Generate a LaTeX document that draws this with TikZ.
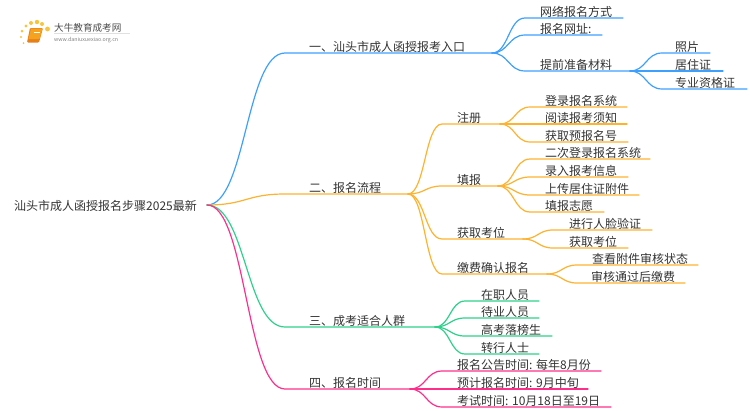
\documentclass[tikz,border=0pt]{standalone}
\usepackage{fontspec}
\setmainfont{Noto Sans CJK SC}
\usetikzlibrary{calc}
\definecolor{blueline}{HTML}{3DA0FF}
\definecolor{orangeline}{HTML}{FFB22E}
\definecolor{greenline}{HTML}{2ED18C}
\definecolor{pinkline}{HTML}{FF2E8B}
\definecolor{labeltext}{HTML}{333333}
\definecolor{bookfill}{HTML}{F5A21F}
\definecolor{bookedge}{HTML}{E8801A}
\definecolor{dotfill}{HTML}{F8C53A}
\begin{document}
\begin{tikzpicture}
[x=1pt,y=-1pt,item/.style = {anchor=base west, inner sep=0pt, yshift=-1pt, text=labeltext, font=\fontsize{12}{12}\selectfont},
link/.style = {to path={.. controls ($(\tikztostart)!0.5!(\tikztotarget|-\tikztostart)$) and ($(\tikztotarget)!0.5!(\tikztostart|-\tikztotarget)$) .. (\tikztotarget)}},
branch/.style = {line width=1.2pt, line cap=round},
bluebranch/.style = {branch, draw=blueline},
orangebranch/.style = {branch, draw=orangeline},
greenbranch/.style = {branch, draw=greenline},
pinkbranch/.style = {branch, draw=pinkline},
dot/.style = {fill=dotfill, draw=none},]
\useasboundingbox (0,0) rectangle (750,410);
% logo
\fill[dot] (37,22) circle (2.2);
\fill[dot] (31,23) circle (2);
\fill[dot] (42,24) circle (2);
\fill[dot] (47.5,29) circle (2.4);
\fill[dot] (26,26) circle (1.7);
\fill[dot] (22,31) circle (1.5);
\fill[dot] (21,37) circle (1.2);
\fill[dot] (23.5,43) circle (1);
\fill[bookedge,rounded corners=1pt] (30,28) -- (43,28) -- (39,42.5) -- (27,42.5) -- cycle;
\fill[bookfill,rounded corners=.5pt] (31,28.5) -- (42.5,28.5) -- (39.5,39) -- (28.5,39) -- cycle;
\draw[white,line width=.5pt] (33.5,32) -- (39.5,32);
\draw[black!12,line width=.5pt] (54,33.5) -- (130,33.5);
\node (logoname) at (54,30)[item,text=black!70,font=\fontsize{9.6}{10}\selectfont] {大牛教育成考网};
\node (logourl) at (54,40)[item,text=black!50,font=\fontsize{5.3}{6}\selectfont] {www.daniuxuexiao.org.cn};
% root
\node (R) at (14,209)[item] {汕头市成人函授报名步骤2025最新};
\coordinate (Rj) at (207,205);
% first level
\node (A) at (309,50)[item] {一、汕头市成人函授报考入口};
\coordinate (As) at (285,53); \coordinate (Aj) at (492,53);
\node (B) at (309,191)[item] {二、报名流程};
\coordinate (Bs) at (285,194); \coordinate (Bj) at (408,194);
\node (C) at (309,324)[item] {三、成考适合人群};
\coordinate (Cs) at (285,327); \coordinate (Cj) at (435,327);
\node (D) at (309,386)[item] {四、报名时间};
\coordinate (Ds) at (285,389); \coordinate (Dj) at (410,389);
% first branch
\node (A1) at (540,15)[item] {网络报名方式};
\coordinate (A1s) at (525,18); \coordinate (A1e) at (623,18);
\node (A2) at (540,32)[item] {报名网址:};
\coordinate (A2s) at (525,35); \coordinate (A2e) at (602,35);
\node (A3) at (540,68)[item] {提前准备材料};
\coordinate (A3s) at (525,71); \coordinate (A3j) at (630,71);
\node (A31) at (675,50)[item] {照片};
\coordinate (A31s) at (662,53); \coordinate (A31e) at (710,53);
\node (A32) at (675,68)[item] {居住证};
\coordinate (A32s) at (662,71); \coordinate (A32e) at (723,71);
\node (A33) at (675,86)[item] {专业资格证};
\coordinate (A33s) at (662,89); \coordinate (A33e) at (747,89);
% second branch
\node (B1) at (457,121)[item] {注册};
\coordinate (B1s) at (442,124); \coordinate (B1j) at (500,124);
\node (B2) at (457,183)[item] {填报};
\coordinate (B2s) at (442,186); \coordinate (B2j) at (498,186);
\node (B3) at (457,236)[item] {获取考位};
\coordinate (B3s) at (442,239); \coordinate (B3j) at (523,239);
\node (B4) at (457,271)[item] {缴费确认报名};
\coordinate (B4s) at (442,274); \coordinate (B4j) at (547,274);
\node (B11) at (545,104)[item] {登录报名系统};
\coordinate (B11s) at (530,107); \coordinate (B11e) at (627,107);
\node (B12) at (545,121)[item] {阅读报考须知};
\coordinate (B12s) at (530,124); \coordinate (B12e) at (627,124);
\node (B13) at (545,139)[item] {获取预报名号};
\coordinate (B13s) at (530,142); \coordinate (B13e) at (628,142);
\node (B21) at (545,156)[item] {二次登录报名系统};
\coordinate (B21s) at (530,159); \coordinate (B21e) at (650,159);
\node (B22) at (545,174)[item] {录入报考信息};
\coordinate (B22s) at (530,177); \coordinate (B22e) at (628,177);
\node (B23) at (545,192)[item] {上传居住证附件};
\coordinate (B23s) at (530,195); \coordinate (B23e) at (639,195);
\node (B24) at (545,209)[item] {填报志愿};
\coordinate (B24s) at (530,212); \coordinate (B24e) at (604,212);
\node (B31) at (569,227)[item] {进行人脸验证};
\coordinate (B31s) at (553,230); \coordinate (B31e) at (652,230);
\node (B32) at (569,245)[item] {获取考位};
\coordinate (B32s) at (553,248); \coordinate (B32e) at (628,248);
\node (B41) at (592,262)[item] {查看附件审核状态};
\coordinate (B41s) at (577,265); \coordinate (B41e) at (698,265);
\node (B42) at (591,280)[item] {审核通过后缴费};
\coordinate (B42s) at (577,283); \coordinate (B42e) at (685,283);
% third branch
\node (C1) at (481,298)[item] {在职人员};
\coordinate (C1s) at (465,301); \coordinate (C1e) at (539,301);
\node (C2) at (481,315)[item] {待业人员};
\coordinate (C2s) at (465,318); \coordinate (C2e) at (539,318);
\node (C3) at (481,333)[item] {高考落榜生};
\coordinate (C3s) at (465,336); \coordinate (C3e) at (552,336);
\node (C4) at (481,351)[item] {转行人士};
\coordinate (C4s) at (465,354); \coordinate (C4e) at (539,354);
% fourth branch
\node (D1) at (457,368)[item] {报名公告时间: 每年8月份};
\coordinate (D1s) at (442,371); \coordinate (D1e) at (601,371);
\node (D2) at (457,386)[item] {预计报名时间: 9月中旬};
\coordinate (D2s) at (442,389); \coordinate (D2e) at (588,389);
\node (D3) at (457,404)[item] {考试时间: 10月18日至19日};
\coordinate (D3s) at (442,407); \coordinate (D3e) at (611,407);
% connectors
\draw[bluebranch] (Rj) to[link] (As) -- (Aj);
\draw[bluebranch] (Aj) to[link] (A1s) -- (A1e);
\draw[bluebranch] (Aj) to[link] (A2s) -- (A2e);
\draw[bluebranch] (Aj) to[link] (A3s) -- (A3j);
\draw[bluebranch] (A3j) to[link] (A31s) -- (A31e);
\draw[bluebranch] (A3j) to[link] (A32s) -- (A32e);
\draw[bluebranch] (A3j) to[link] (A33s) -- (A33e);
\draw[orangebranch] (Rj) to[link] (Bs) -- (Bj);
\draw[orangebranch] (Bj) to[link] (B1s) -- (B1j);
\draw[orangebranch] (Bj) to[link] (B2s) -- (B2j);
\draw[orangebranch] (Bj) to[link] (B3s) -- (B3j);
\draw[orangebranch] (Bj) to[link] (B4s) -- (B4j);
\draw[orangebranch] (B1j) to[link] (B11s) -- (B11e);
\draw[orangebranch] (B1j) to[link] (B12s) -- (B12e);
\draw[orangebranch] (B1j) to[link] (B13s) -- (B13e);
\draw[orangebranch] (B2j) to[link] (B21s) -- (B21e);
\draw[orangebranch] (B2j) to[link] (B22s) -- (B22e);
\draw[orangebranch] (B2j) to[link] (B23s) -- (B23e);
\draw[orangebranch] (B2j) to[link] (B24s) -- (B24e);
\draw[orangebranch] (B3j) to[link] (B31s) -- (B31e);
\draw[orangebranch] (B3j) to[link] (B32s) -- (B32e);
\draw[orangebranch] (B4j) to[link] (B41s) -- (B41e);
\draw[orangebranch] (B4j) to[link] (B42s) -- (B42e);
\draw[greenbranch] (Rj) to[link] (Cs) -- (Cj);
\draw[greenbranch] (Cj) to[link] (C1s) -- (C1e);
\draw[greenbranch] (Cj) to[link] (C2s) -- (C2e);
\draw[greenbranch] (Cj) to[link] (C3s) -- (C3e);
\draw[greenbranch] (Cj) to[link] (C4s) -- (C4e);
\draw[pinkbranch] (Rj) to[link] (Ds) -- (Dj);
\draw[pinkbranch] (Dj) to[link] (D1s) -- (D1e);
\draw[pinkbranch] (Dj) to[link] (D2s) -- (D2e);
\draw[pinkbranch] (Dj) to[link] (D3s) -- (D3e);
\end{tikzpicture}
\end{document}
